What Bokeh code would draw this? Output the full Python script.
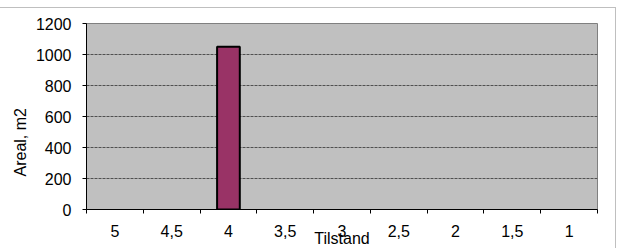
from bokeh.plotting import figure
from bokeh.models import Range1d, FixedTicker, Title
from bokeh.embed import file_html
from bokeh.resources import INLINE

categories = ["5", "4,5", "4", "3,5", "3", "2,5", "2", "1,5", "1"]
areal = [0, 0, 1050, 0, 0, 0, 0, 0, 0]
y_ticks = [0, 200, 400, 600, 800, 1000, 1200]
x_title = "Tilstand"
y_title = "Areal, m2"

FONT = "Liberation Sans"

p = figure(width=616, height=241, output_backend="svg", toolbar_location=None,
           x_range=Range1d(0, len(categories)), y_range=Range1d(0, 1200),
           min_border_left=86, min_border_right=19, min_border_top=15, min_border_bottom=38,
           background_fill_color="#C0C0C0", border_fill_color="white",
           outline_line_color="#808080", outline_line_width=1,
           styles={"border-top": "1px solid #BFBFBF", "border-right": "1px solid #BFBFBF",
                   "margin-top": "7px"})

xs = [i + 0.5 for i, v in enumerate(areal) if v > 0]
tops = [v for v in areal if v > 0]
p.vbar(x=xs, top=tops, width=0.4, bottom=0, fill_color="#993366",
       line_color="black", line_width=2)

centers = [i + 0.5 for i in range(len(categories))]
p.xaxis.ticker = FixedTicker(ticks=centers, minor_ticks=list(range(len(categories) + 1)))
p.xaxis.major_label_overrides = {c: lab for c, lab in zip(centers, categories)}
p.xaxis.major_tick_line_color = None
p.xaxis.major_tick_out = 0
p.xaxis.major_tick_in = 0
p.xaxis.minor_tick_out = 4
p.xaxis.minor_tick_in = 0
p.xaxis.minor_tick_line_color = "black"
p.xaxis.major_label_standoff = 11
p.xaxis.axis_label = x_title
p.xaxis.axis_label_standoff = -10
p.xaxis.axis_label_text_font = FONT
p.xaxis.axis_label_text_font_size = "16px"
p.xaxis.axis_label_text_font_style = "normal"
p.xaxis.axis_label_text_color = "black"

p.yaxis.ticker = FixedTicker(ticks=y_ticks)
p.yaxis.major_tick_out = 4
p.yaxis.major_tick_in = 0
p.yaxis.minor_tick_line_color = None
p.yaxis.major_label_standoff = 11

for ax in (p.xaxis, p.yaxis):
    ax.axis_line_color = "black"
    ax.axis_line_width = 1
    ax.major_label_text_font = FONT
    ax.major_label_text_font_size = "16px"
    ax.major_label_text_color = "black"

p.xgrid.grid_line_color = None
p.ygrid.ticker = FixedTicker(ticks=y_ticks[1:-1])
p.ygrid.grid_line_color = "#505050"
p.ygrid.grid_line_dash = "3 1"
p.ygrid.grid_line_width = 1

p.add_layout(Title(text=y_title, align="left", offset=33, standoff=8,
                   text_font=FONT, text_font_size="16px", text_font_style="normal",
                   text_color="black"), "left")

open("out.html", "w").write(file_html(p, INLINE))
